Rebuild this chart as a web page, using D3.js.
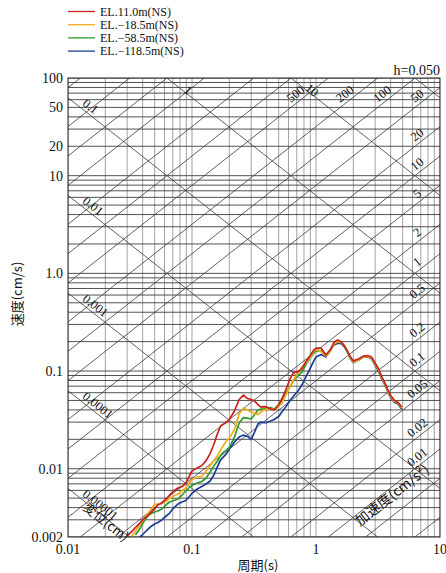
<!DOCTYPE html>
<html><head><meta charset="utf-8">
<script src="https://cdn.jsdelivr.net/npm/d3@7"></script>
<style>body{margin:0;background:#fff}svg{display:block}</style>
</head><body>
<svg id="c" width="446" height="573"></svg>
<script>
// ---------- data ----------
const periods = [0.030,0.032,0.035,0.038,0.040,0.043,0.046,0.050,0.053,0.057,0.062,0.066,0.071,0.077,0.083,0.089,0.096,0.10,0.11,0.12,0.13,0.14,0.15,0.16,0.17,0.18,0.19,0.20,0.22,0.24,0.26,0.28,0.30,0.32,0.34,0.36,0.38,0.40,0.43,0.46,0.50,0.53,0.57,0.62,0.66,0.71,0.77,0.83,0.89,0.96,1.0,1.1,1.2,1.3,1.4,1.5,1.6,1.7,1.8,1.9,2.0,2.2,2.4,2.6,2.8,3.0,3.2,3.4,3.6,3.8,4.0,4.3,4.6,4.9];
const velEL110 = [0.00205,0.00222,0.00250,0.00278,0.00299,0.00324,0.00352,0.00387,0.00425,0.00446,0.00490,0.00538,0.00591,0.00635,0.00658,0.00706,0.00862,0.00947,0.0102,0.0108,0.0121,0.0143,0.0177,0.0227,0.0274,0.0287,0.0301,0.0319,0.0390,0.0511,0.0568,0.0523,0.0511,0.0493,0.0454,0.0428,0.0433,0.0428,0.0408,0.0399,0.0454,0.0517,0.0639,0.0838,0.0977,0.0977,0.106,0.125,0.142,0.164,0.172,0.172,0.146,0.164,0.198,0.208,0.198,0.180,0.158,0.139,0.127,0.133,0.142,0.144,0.139,0.121,0.105,0.0868,0.0754,0.0639,0.0561,0.0499,0.0476,0.0428];
const velELm185 = [null,0.00195,0.00230,0.00269,0.00295,0.00336,0.00374,0.00430,0.00435,0.00440,0.00467,0.00496,0.00526,0.00551,0.00591,0.00635,0.00731,0.00775,0.00822,0.00832,0.00947,0.0108,0.0121,0.0135,0.0155,0.0175,0.0194,0.0206,0.0252,0.0363,0.0418,0.0399,0.0381,0.0367,0.0359,0.0381,0.0399,0.0408,0.0408,0.0404,0.0438,0.0470,0.0568,0.0702,0.0819,0.0943,0.110,0.121,0.136,0.160,0.166,0.158,0.142,0.160,0.189,0.200,0.196,0.180,0.158,0.136,0.124,0.130,0.139,0.141,0.136,0.118,0.102,0.0848,0.0736,0.0624,0.0548,0.0487,0.0470,0.0418];
const velELm585 = [null,null,0.00210,0.00244,0.00275,0.00317,0.00344,0.00361,0.00369,0.00387,0.00430,0.00456,0.00473,0.00490,0.00538,0.00591,0.00650,0.00673,0.00714,0.00740,0.00803,0.00925,0.0107,0.0119,0.0137,0.0148,0.0155,0.0165,0.0211,0.0294,0.0334,0.0330,0.0323,0.0359,0.0399,0.0408,0.0408,0.0418,0.0423,0.0408,0.0438,0.0499,0.0588,0.0702,0.0799,0.0889,0.0977,0.117,0.134,0.153,0.160,0.162,0.144,0.158,0.193,0.203,0.193,0.180,0.157,0.134,0.124,0.130,0.139,0.141,0.136,0.118,0.102,0.0848,0.0736,0.0624,0.0548,0.0487,0.0470,0.0423];
const velELm1185 = [null,null,null,0.00200,0.00212,0.00233,0.00253,0.00272,0.00281,0.00299,0.00328,0.00352,0.00396,0.00435,0.00456,0.00473,0.00526,0.00558,0.00620,0.00658,0.00697,0.00748,0.00862,0.0104,0.0123,0.0133,0.0143,0.0159,0.0188,0.0211,0.0221,0.0214,0.0199,0.0238,0.0287,0.0301,0.0297,0.0297,0.0308,0.0319,0.0342,0.0381,0.0428,0.0505,0.0555,0.0617,0.0719,0.0878,0.104,0.127,0.139,0.148,0.139,0.164,0.185,0.193,0.191,0.176,0.155,0.133,0.122,0.130,0.139,0.139,0.134,0.115,0.0988,0.0828,0.0719,0.0610,0.0536,0.0476,0.0460,0.0408];
const seriesNames = ["EL.11.0m(NS)","EL.\u221218.5m(NS)","EL.\u221258.5m(NS)","EL.\u2212118.5m(NS)"];
const seriesColors = ["#c8221f","#f0ac1c","#2f9a2c","#1d3e96"];

const yTickValues = [100,50,20,10,1,0.1,0.01,0.002];
const yTickLabels = ["100","50","20","10","1.0","0.1","0.01","0.002"];
const xTickValues = [0.01,0.1,1,10];
const xTickLabels = ["0.01","0.1","1","10"];

const dispLines = [0.00001,0.0001,0.001,0.01,0.1,1,10,100];
const dispLeftLabels = [0.1,0.01,0.001,0.0001,0.00001];
const dispLeftText = ["0.1","0.01","0.001","0.0001","0.00001"];
const dispTopLabels = [1,10];
const dispTopText = ["1","10"];
const accLines = [0.001,0.002,0.005,0.01,0.02,0.05,0.1,0.2,0.5,1,2,5,10,20,50,100,200,500,1000,2000,5000,10000,20000,50000];
const accLabels = [500,200,100,50,20,10,5,2,1,0.5,0.2,0.1,0.05,0.02,0.01];
const accText = ["500","200","100","50","20","10","5","2","1","0.5","0.2","0.1","0.05","0.02","0.01"];

// ---------- drawing ----------
const L=68,R=440,T=78,B=537;
const x = d3.scaleLog().domain([0.01,10]).range([L,R]);
const y = d3.scaleLog().domain([0.002,100]).range([B,T]);
const svg = d3.select("#c");
const serif = "'Liberation Serif','Times New Roman',serif";
const cjk = "'Noto Sans CJK JP','Noto Sans CJK SC',sans-serif";
const TWO_PI = 2*Math.PI;
const ang = Math.atan((B-T)/Math.log10(100/0.002)/((R-L)/3))*180/Math.PI;
const ca = Math.cos(ang*Math.PI/180), sa = Math.sin(ang*Math.PI/180);

svg.append("defs").append("clipPath").attr("id","clip")
  .append("rect").attr("x",L).attr("y",T).attr("width",R-L).attr("height",B-T);
const g = svg.append("g").attr("clip-path","url(#clip)");

g.selectAll("line.vg").data(x.ticks()).join("line").attr("class","vg")
  .attr("x1",d=>x(d)).attr("x2",d=>x(d)).attr("y1",T).attr("y2",B)
  .attr("stroke","#8c8c8c").attr("stroke-width",0.8);
g.selectAll("line.hg").data(y.ticks()).join("line").attr("class","hg")
  .attr("x1",L).attr("x2",R).attr("y1",d=>y(d)).attr("y2",d=>y(d))
  .attr("stroke","#333").attr("stroke-width",0.85);

const Tends=[0.003,30];
const diag = d3.line().x(d=>x(d[0])).y(d=>y(d[1]));
g.selectAll("path.dl").data(dispLines).join("path").attr("class","dl")
  .attr("d",D=>diag(Tends.map(t=>[t,TWO_PI*D/t])))
  .attr("fill","none").attr("stroke","#3a3a3a").attr("stroke-width",0.8);
g.selectAll("path.al").data(accLines).join("path").attr("class","al")
  .attr("d",A=>diag(Tends.map(t=>[t,A*t/TWO_PI])))
  .attr("fill","none").attr("stroke","#3a3a3a").attr("stroke-width",0.8);

// curves
const series = [
  {name:seriesNames[3],color:seriesColors[3],v:velELm1185},
  {name:seriesNames[2],color:seriesColors[2],v:velELm585},
  {name:seriesNames[1],color:seriesColors[1],v:velELm185},
  {name:seriesNames[0],color:seriesColors[0],v:velEL110}
];
const curve = d3.line().defined(d=>d[1]!=null).x(d=>x(d[0])).y(d=>y(d[1]));
g.selectAll("path.s").data(series).join("path").attr("class","s")
  .attr("d",s=>curve(periods.map((p,i)=>[p,s.v[i]])))
  .attr("fill","none").attr("stroke",s=>s.color).attr("stroke-width",1.7).attr("stroke-linejoin","round");

// frame
svg.append("rect").attr("x",L).attr("y",T).attr("width",R-L).attr("height",B-T)
  .attr("fill","none").attr("stroke","#222").attr("stroke-width",1);

// axis labels
svg.selectAll("text.yt").data(yTickValues).join("text").attr("class","yt")
  .attr("x",L-5).attr("y",d=>y(d)).attr("dy","0.35em").attr("text-anchor","end")
  .attr("font-family",serif).attr("font-size",14).attr("fill","#111")
  .text((d,i)=>yTickLabels[i]);
svg.selectAll("text.xt").data(xTickValues).join("text").attr("class","xt")
  .attr("x",d=>x(d)).attr("y",B+17).attr("text-anchor","middle")
  .attr("font-family",serif).attr("font-size",14).attr("fill","#111")
  .text((d,i)=>xTickLabels[i]);

svg.append("text").attr("transform","translate(22,294) rotate(-90)")
  .attr("text-anchor","middle").attr("font-family",cjk).attr("font-size",13).attr("fill","#111")
  .text("速度(cm/s)");
svg.append("text").attr("x",258).attr("y",570).attr("text-anchor","middle")
  .attr("font-family",cjk).attr("font-size",13).attr("fill","#111").text("周期(s)");
svg.append("text").attr("x",R).attr("y",75).attr("text-anchor","end")
  .attr("font-family",serif).attr("font-size",14).attr("fill","#111").text("h=0.050");

// displacement labels
const lab = svg.append("g").attr("font-family",serif).attr("font-size",12.5).attr("fill","#111");
dispLeftLabels.forEach((D,i)=>{
  const px=80, t=x.invert(px), py=y(TWO_PI*D/t);
  lab.append("text").attr("transform",`translate(${px+sa*3},${py-ca*3}) rotate(${ang})`)
    .text(dispLeftText[i]);
});
dispTopLabels.forEach((D,i)=>{
  const py=90, v=y.invert(py), px=x(TWO_PI*D/v)+6;
  lab.append("text").attr("transform",`translate(${px},${py}) rotate(${ang})`)
    .attr("text-anchor","middle").attr("dy","0.35em").text(dispTopText[i]);
});
// acceleration labels
accLabels.forEach((A,i)=>{
  let py=100, v=y.invert(py), t=TWO_PI*v/A, px=x(t);
  if(px>422){ px=422; t=x.invert(px); py=y(A*t/TWO_PI); }
  lab.append("text").attr("transform",`translate(${px-sa*8},${py-ca*8}) rotate(${-ang})`)
    .attr("text-anchor","middle").attr("dy","0.35em").text(accText[i]);
});
svg.append("text").attr("transform",`translate(106,522) rotate(${ang})`)
  .attr("text-anchor","middle").attr("dy","0.35em")
  .attr("font-family",cjk).attr("font-size",13).attr("fill","#111").text("変位(cm)");
svg.append("text").attr("transform",`translate(392,495) rotate(${-ang})`)
  .attr("text-anchor","middle").attr("dy","0.35em")
  .attr("font-family",cjk).attr("font-size",14).attr("fill","#111").text("加速度(cm/s²)");

// legend
const leg = svg.append("g");
seriesNames.forEach((n,i)=>{
  const cy = 11.5 + i*13.2;
  leg.append("line").attr("x1",68).attr("x2",95).attr("y1",cy).attr("y2",cy)
    .attr("stroke",seriesColors[i]).attr("stroke-width",1.3);
  leg.append("text").attr("x",100).attr("y",cy).attr("dy","0.35em")
    .attr("font-family",serif).attr("font-size",12).attr("fill","#111").text(n);
});
</script>
</body></html>
